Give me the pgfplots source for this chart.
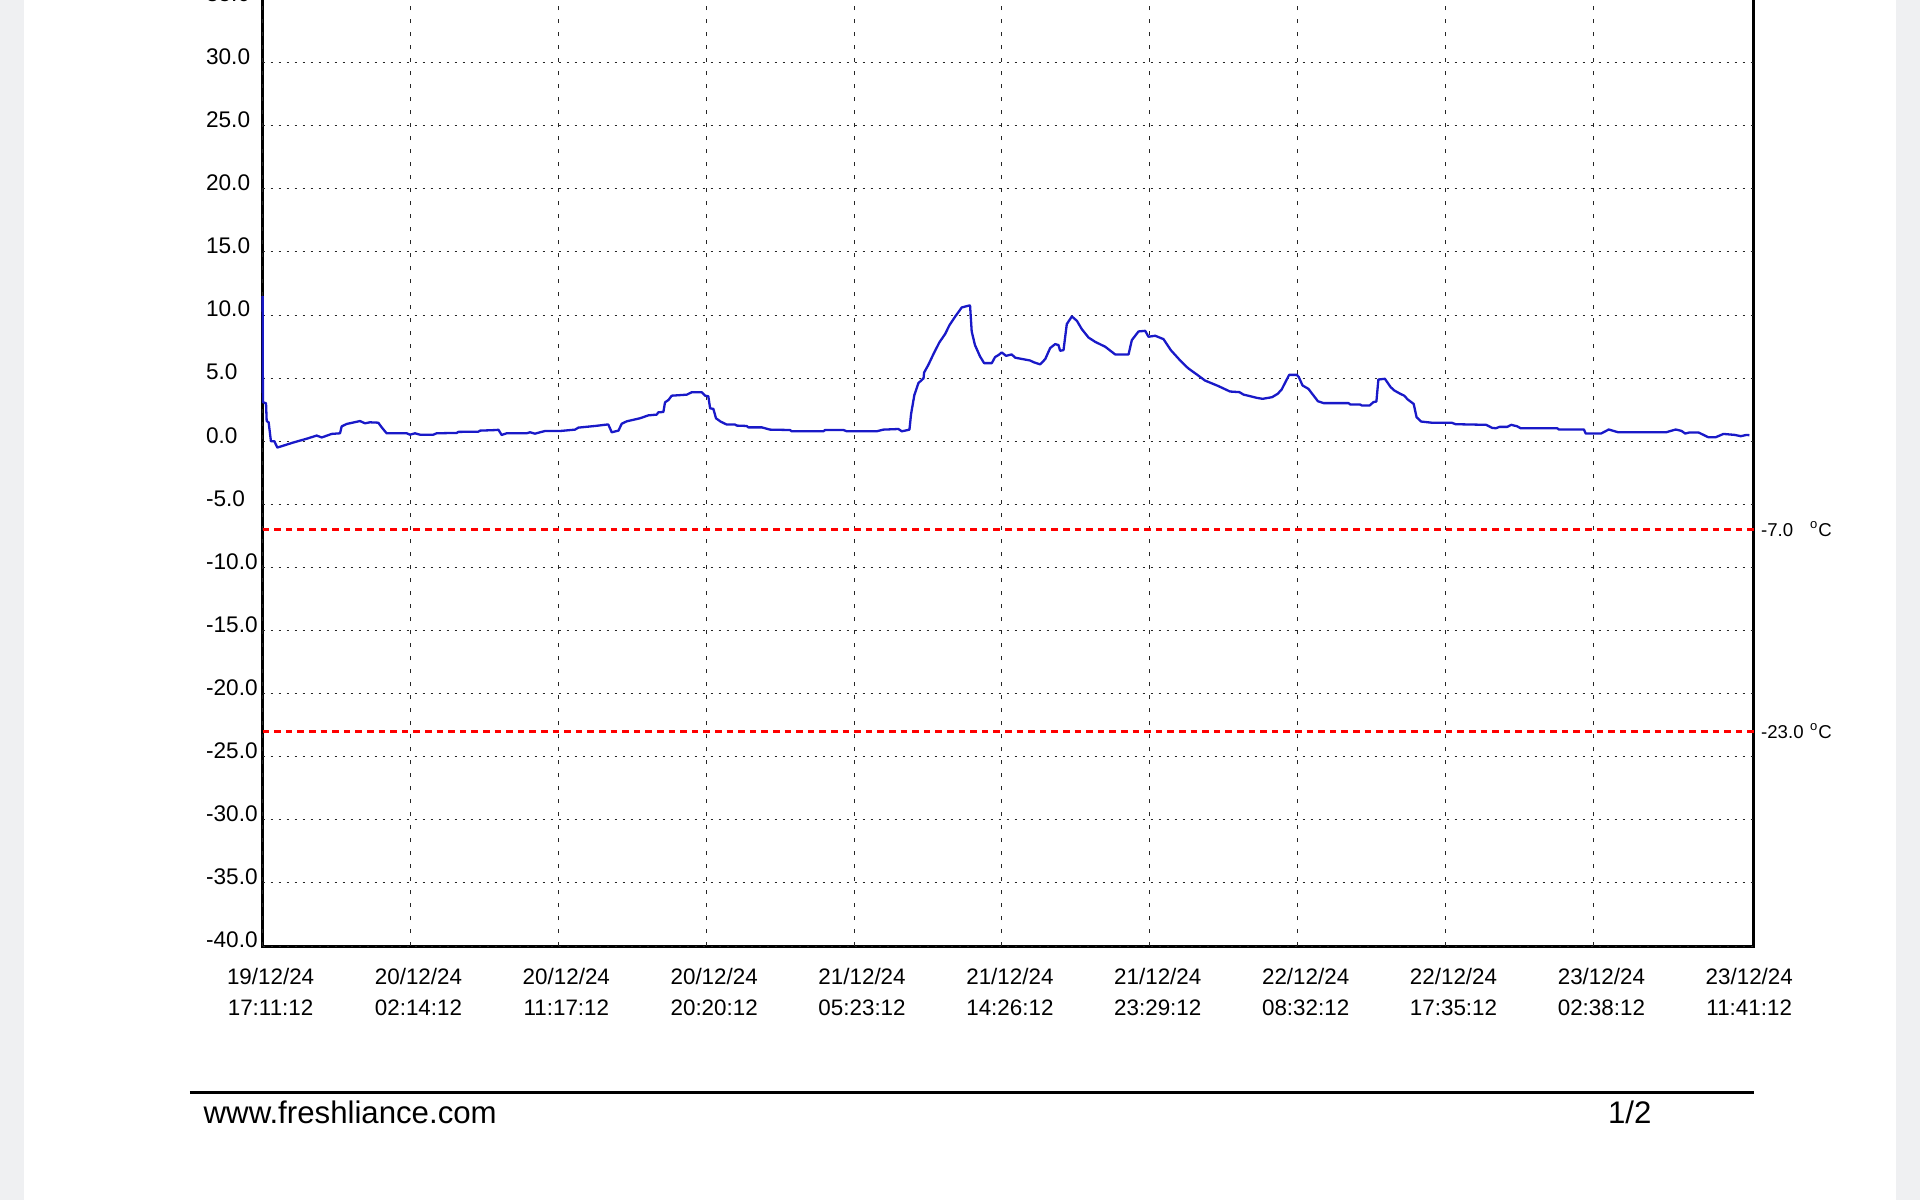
\documentclass[border=0pt]{standalone}
\usepackage{pgfplots}
\pgfplotsset{compat=1.18}
\usepackage{fontspec}
\setmainfont{Liberation Sans}
\definecolor{pagegray}{RGB}{239,240,242}
\definecolor{lineblue}{RGB}{25,25,200}
\begin{document}
\begin{tikzpicture}
\useasboundingbox (0pt,-600pt) rectangle (960pt,0pt);
\clip (0pt,-600pt) rectangle (960pt,0pt);
\fill[white] (0pt,-600pt) rectangle (960pt,0pt);
\fill[pagegray] (0pt,-600pt) rectangle (12pt,0pt);
\fill[pagegray] (948pt,-600pt) rectangle (960pt,0pt);
% axis frame (left, bottom, right), drawn behind the data
\draw[black, line width=1.5pt, line join=miter] (131.3pt,3pt) -- (131.3pt,-473pt) -- (876.75pt,-473pt) -- (876.75pt,3pt);
\begin{axis}[
  at={(131.3pt,-473pt)}, anchor=south west,
  scale only axis, width=745.45pt, height=474.8pt,
  xmin=0, xmax=91.25, ymin=-40, ymax=35.25,
  clip=false,
  axis line style={draw=none},
  major tick length=0pt,
  grid=major,
  x grid style={black!85, line width=0.5pt, dash pattern=on 2pt off 4.5pt},
  y grid style={black!85, line width=0.5pt, dash pattern=on 1pt off 3pt},
  ytick={-40,-35,...,35},
  /pgf/number format/.cd, fixed, fixed zerofill, precision=1, assume math mode=true,
  /pgfplots/.cd,
  yticklabel style={anchor=west, inner sep=0pt, xshift=-28.45pt, yshift=3pt, font=\fontsize{11.3}{13.5}\selectfont},
  xtick={0,9.05,18.1,27.15,36.2,45.25,54.3,63.35,72.4,81.45},
  xticklabels={{19/12/24\\17:11:12},{20/12/24\\02:14:12},{20/12/24\\11:17:12},{20/12/24\\20:20:12},{21/12/24\\05:23:12},{21/12/24\\14:26:12},{21/12/24\\23:29:12},{22/12/24\\08:32:12},{22/12/24\\17:35:12},{23/12/24\\02:38:12}},
  extra x ticks={90.5},
  extra x tick labels={{23/12/24\\11:41:12}},
  extra x tick style={grid=none},
  xticklabel style={align=center, anchor=north, inner sep=0pt, yshift=-11pt, xshift=4pt, font=\fontsize{11.2}{15.3}\selectfont},
]
\addplot[red, line width=1.3pt, dash pattern=on 3.3pt off 2.5pt] coordinates {(0,-7) (91.25,-7)};
\addplot[red, line width=1.3pt, dash pattern=on 3.3pt off 2.5pt] coordinates {(0,-23) (91.25,-23)};
\addplot[lineblue, line width=1.15pt, mark=none, line join=round] coordinates {
(0,11.5) (0.02,3.1) (0.21,3.0) (0.25,1.6) (0.37,1.5) (0.51,0.0) (0.72,0.0) (0.90,-0.5)
(1.27,-0.35) (1.88,-0.1) (2.70,0.2) (3.31,0.45) (3.62,0.3) (4.23,0.58) (4.74,0.63)
(4.84,1.18) (5.15,1.37) (5.96,1.6) (6.27,1.42) (6.57,1.5) (7.08,1.47) (7.29,1.1)
(7.59,0.63) (8.82,0.63) (9.02,0.52) (9.33,0.63) (9.63,0.52) (10.45,0.52) (10.65,0.63)
(11.88,0.66) (11.98,0.74) (13.21,0.76) (13.31,0.84) (14.33,0.89) (14.43,0.92) (14.63,0.5)
(14.94,0.63) (16.16,0.63) (16.37,0.71) (16.67,0.6) (16.98,0.71) (17.29,0.81) (18.20,0.81)
(19.12,0.92) (19.33,1.08) (20.35,1.21) (21.06,1.32) (21.16,1.32) (21.37,0.71) (21.78,0.84)
(21.98,1.39) (22.29,1.58) (23.10,1.82) (23.61,2.05) (24.12,2.11) (24.22,2.29) (24.53,2.32)
(24.63,3.08) (24.84,3.27) (25.04,3.61) (25.96,3.69) (26.26,3.88) (26.88,3.88) (27.08,3.61)
(27.28,3.56) (27.39,2.61) (27.59,2.56) (27.75,1.82) (28.04,1.55) (28.41,1.32) (28.92,1.32)
(29.02,1.24) (29.63,1.21) (29.73,1.10) (30.55,1.10) (31.06,0.92) (32.28,0.89) (32.38,0.79)
(34.32,0.79) (34.43,0.89) (35.55,0.89) (35.75,0.79) (37.59,0.79) (38.00,0.92) (38.91,0.97)
(39.12,0.79) (39.32,0.84) (39.59,0.92) (39.69,2.16) (39.89,3.66) (40.14,4.61) (40.45,4.98)
(40.49,5.45) (40.75,6.06) (41.06,6.91) (41.42,7.83) (41.77,8.49) (42.04,9.2) (42.38,9.86)
(42.79,10.6) (43.26,10.76) (43.30,10.74) (43.40,8.70) (43.60,7.62) (43.91,6.72) (44.16,6.19)
(44.63,6.19) (44.83,6.67) (45.04,6.83) (45.24,7.04) (45.50,6.77) (45.85,6.88) (46.06,6.62)
(46.97,6.40) (47.18,6.27) (47.59,6.09) (47.90,6.51) (48.20,7.38) (48.51,7.70) (48.71,7.62)
(48.81,7.17) (49.02,7.22) (49.22,9.28) (49.53,9.89) (49.84,9.54) (50.14,8.88) (50.55,8.22)
(50.95,7.88) (51.57,7.49) (52.18,6.88) (53.00,6.88) (53.20,8.01) (53.61,8.70) (54.02,8.75)
(54.22,8.28) (54.63,8.36) (55.14,8.09) (55.6,7.2) (56.16,6.4) (56.65,5.78) (57.2,5.27)
(57.68,4.81) (58.50,4.37) (59.21,3.94) (59.79,3.89) (60.03,3.70) (60.84,3.44) (61.20,3.36)
(61.78,3.49) (62.13,3.76) (62.37,4.10) (62.60,4.68) (62.83,5.26) (63.30,5.26) (63.42,5.08)
(63.65,4.42) (64.01,4.15) (64.24,3.76) (64.59,3.17) (64.94,3.02) (66.46,3.02) (66.58,2.91)
(67.17,2.91) (67.28,2.83) (67.75,2.83) (67.99,3.10) (68.17,3.15) (68.29,4.89) (68.69,4.95)
(69.04,4.29) (69.27,4.02) (69.63,3.76) (69.86,3.62) (70.09,3.31) (70.45,2.96) (70.63,1.90)
(70.91,1.56) (71.62,1.46) (72.79,1.46) (73.02,1.35) (74.89,1.30) (75.25,1.06) (75.48,1.03)
(75.71,1.14) (76.18,1.14) (76.42,1.30) (76.77,1.19) (77.00,1.03) (79.23,1.03) (79.34,0.93)
(80.87,0.93) (80.98,0.61) (81.92,0.61) (82.39,0.93) (82.97,0.71) (85.90,0.71) (86.49,0.93)
(86.84,0.82) (87.07,0.61) (87.31,0.69) (87.89,0.69) (88.48,0.32) (88.94,0.32) (89.41,0.58)
(90.11,0.50) (90.47,0.40) (90.82,0.50) (91.0,0.48)
};
\node[anchor=base west, inner sep=0pt, xshift=3.65pt, yshift=-3.3pt, font=\fontsize{9.3}{11}\selectfont] at (axis cs:91.25,-7) {\makebox[24.5pt][l]{-7.0}\textsuperscript{o}C};
\node[anchor=base west, inner sep=0pt, xshift=3.65pt, yshift=-3.3pt, font=\fontsize{9.3}{11}\selectfont] at (axis cs:91.25,-23) {\makebox[24.5pt][l]{-23.0}\textsuperscript{o}C};
\end{axis}
\draw[black, line width=1.5pt] (94.9pt,-546.1pt) -- (876.75pt,-546.1pt);
\node[anchor=base west, inner sep=0pt, font=\fontsize{15.6}{18}\selectfont] at (101.65pt,-561.5pt) {www.freshliance.com};
\node[anchor=base west, inner sep=0pt, font=\fontsize{15.6}{18}\selectfont] at (803.85pt,-561.5pt) {1/2};
\end{tikzpicture}
\end{document}
